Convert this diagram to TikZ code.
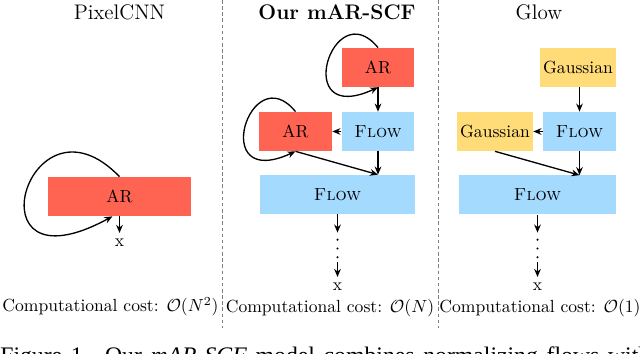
\documentclass[tikz,border=0pt]{standalone}
\usepackage{amsmath}
\usepackage{tikz}
\usepackage{xcolor}
\usepackage{fontspec}
\newfontfamily\capfont{Liberation Serif}
\usetikzlibrary{arrows.meta}
\definecolor{ARRed}{HTML}{FF6351}
\definecolor{FlowBlue}{HTML}{A5DAFF}
\definecolor{GaussYellow}{HTML}{FFDC78}

\begin{document}
\begin{tikzpicture}[x=0.02cm,y=0.02cm,
  ar/.style={fill=ARRed,minimum height=0.78cm,inner sep=0pt},
  fl/.style={fill=FlowBlue,minimum height=0.78cm,inner sep=0pt},
  gs/.style={fill=GaussYellow,minimum height=0.78cm,inner sep=0pt},
  vdots/.style={inner sep=0pt,minimum width=2pt,minimum height=0.36cm},
  arr/.style={-{Stealth[length=4.6pt,width=3.8pt]},line width=0.75pt}]
  \clip (0,0) rectangle (640,354);
  \draw[gray,dash pattern=on 2pt off 1.5pt] (222,354) -- (222,26);
  \draw[gray,dash pattern=on 2pt off 1.5pt] (438,354) -- (438,26);
  \node (t1) at (119.5,342) {\large PixelCNN};
  \node (t2) at (337,342) {\large\bfseries Our mAR-SCF};
  \node (t3) at (539,342) {\large Glow};
  % PixelCNN
  \node[ar,minimum width=2.86cm] (ar1) at (119.5,157.5) {AR};
  \node (x1) at (119.5,111) {x};
  \draw[arr] (ar1.north) .. controls (28,272) and (-34,58) .. ([xshift=-4pt]ar1.south);
  \draw[arr] (ar1) -- (x1);
  \node (c1) at (110.5,47) {Computational cost: $\mathcal{O}(N^2)$};
  % mAR-SCF
  \node[ar,minimum width=1.46cm] (ar2a) at (378,286.5) {AR};
  \node[fl,minimum width=1.46cm] (fl2a) at (378,222.5) {\textsc{Flow}};
  \node[ar,minimum width=1.46cm] (ar2b) at (295.5,222.5) {AR};
  \node[fl,minimum width=3.1cm] (fl2b) at (337.5,159.5) {\textsc{Flow}};
  \node[vdots] (d2) at (337.5,105) {};
  \node (x2) at (337.5,67) {x};
  \draw[arr] (ar2a.north) .. controls (333,362) and (290,226) .. (ar2a.south);
  \draw[arr] (ar2a) -- (fl2a);
  \draw[arr] (fl2a) -- (ar2b);
  \draw[arr] (ar2b.north) .. controls (250.5,298) and (207.5,162) .. (ar2b.south);
  \draw[arr] (fl2a) -- (fl2b.north -| fl2a);
  \draw[arr] (ar2b.south) -- (fl2b.north -| fl2a);
  \draw[line width=1.3pt,line cap=round,dash pattern=on 0pt off 5pt] (d2.north) -- (d2.south);
  \draw[arr,shorten >=4pt] (fl2b) -- (d2);
  \draw[arr,shorten <=2pt] (d2) -- (x2);
  \node (c2) at (330,46) {Computational cost: $\mathcal{O}(N)$};
  % Glow
  \node[gs,minimum width=1.52cm] (gs3a) at (578,286.5) {Gaussian};
  \node[fl,minimum width=1.46cm] (fl3a) at (579.5,222.5) {\textsc{Flow}};
  \node[gs,minimum width=1.52cm] (gs3b) at (495,222.5) {Gaussian};
  \node[fl,minimum width=3.14cm] (fl3b) at (537.5,159) {\textsc{Flow}};
  \node[vdots] (d3) at (537.5,105) {};
  \node (x3) at (537.5,67) {x};
  \draw[arr] (gs3a.south -| fl3a) -- (fl3a);
  \draw[arr] (fl3a) -- (gs3b);
  \draw[arr] (gs3b.south) -- (fl3b.north -| fl3a);
  \draw[arr] (fl3a) -- (fl3b.north -| fl3a);
  \draw[line width=1.3pt,line cap=round,dash pattern=on 0pt off 5pt] (d3.north) -- (d3.south);
  \draw[arr,shorten >=4pt] (fl3b) -- (d3);
  \draw[arr,shorten <=2pt] (d3) -- (x3);
  \node (c3) at (540,46) {Computational cost: $\mathcal{O}(1)$};
  \node[anchor=base west,inner sep=0pt] (cap) at (0,-10) {\capfont\fontsize{13.5}{16}\selectfont\makebox[13cm][s]{Figure 1. Our \textit{mAR-SCF} model combines normalizing flows with}};
\end{tikzpicture}
\end{document}
